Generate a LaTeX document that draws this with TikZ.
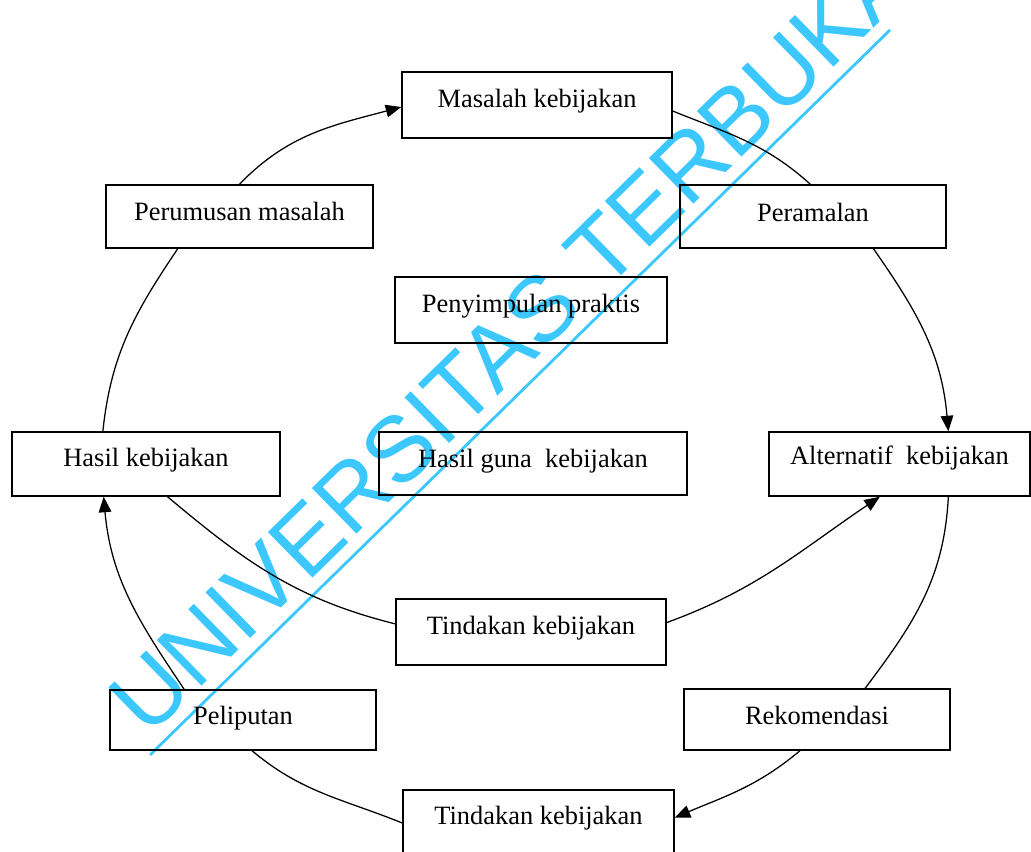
\documentclass[tikz,border=0pt]{standalone}
\usepackage{fontspec}
\setmainfont{Liberation Serif}
\newfontfamily\wmfont{Liberation Sans}
\usetikzlibrary{arrows.meta,calc}
\definecolor{wmcyan}{RGB}{60,200,255}
\begin{document}
\begin{tikzpicture}[x=0.025cm,y=0.025cm,
  kbox/.style 2 args={draw, line width=1.1pt, minimum width=#1*0.025cm,
    minimum height=#2*0.025cm, inner sep=0pt,
    font=\fontsize{18.8}{22}\selectfont, text height=12pt, text depth=7.75pt},
  arc/.style={line width=0.9pt},
  arr/.style={arc, -{Triangle[length=11pt,width=9pt]}}]
\useasboundingbox (0,0) rectangle (1031,852);
% watermark
\node[rotate=44.4, anchor=base, text=wmcyan, inner sep=0pt,
      font=\wmfont\fontsize{66}{72}\selectfont] (wm) at (533,490) {UNIVERSITAS TERBUKA};
\coordinate (ula) at (150,97);
\coordinate (ulb) at (890,822);
\draw[wmcyan, line width=2pt] (ula) -- (ulb);
% boxes
\node[kbox={270}{66}] (masalah) at (537,747) {Masalah kebijakan};
\node[kbox={266}{63}, text depth=4.2pt] (peramalan) at (813,635.5) {Peramalan};
\node[kbox={267}{63}, text depth=7pt] (perumusan) at (239.5,635.5) {Perumusan masalah};
\node[kbox={272}{66}] (penyimpulan) at (531,542) {Penyimpulan praktis};
\node[kbox={268}{64}] (hasil) at (146,388) {Hasil kebijakan};
\node[kbox={308}{63}, text depth=7pt] (hasilguna) at (533,388.5) {Hasil guna\ \ kebijakan};
\node[kbox={261}{64}, text depth=10.6pt] (alternatif) at (899.5,388) {Alternatif\ \ kebijakan};
\node[kbox={270}{66}] (tindakan) at (531,220) {Tindakan kebijakan};
\node[kbox={266}{60}, text depth=4.9pt] (peliputan) at (243,132) {Peliputan};
\node[kbox={266}{61}, text depth=4.2pt] (rekomendasi) at (817,132.5) {Rekomendasi};
\node[kbox={271}{66}, text depth=9.2pt] (tindakanb) at (538.5,29) {Tindakan kebijakan};
% cycle arcs
\draw[arr] (perumusan.north) to[out=46,in=195]
  ($(masalah.north west)!0.53!(masalah.south west)$);
\draw[arc] ($(masalah.north east)!0.59!(masalah.south east)$) to[out=-22,in=138]
  ($(peramalan.north west)!0.49!(peramalan.north east)$);
\draw[arr] ($(peramalan.south west)!0.726!(peramalan.south east)$) to[out=-55,in=95]
  ($(alternatif.north west)!0.686!(alternatif.north east)$);
\draw[arc] ($(alternatif.south west)!0.686!(alternatif.south east)$) to[out=-93,in=53]
  ($(rekomendasi.north west)!0.68!(rekomendasi.north east)$);
\draw[arr] ($(rekomendasi.south west)!0.436!(rekomendasi.south east)$) to[out=-140,in=23]
  ($(tindakanb.north east)!0.42!(tindakanb.south east)$);
\draw[arc] (tindakanb.west) to[out=158,in=-40]
  ($(peliputan.south west)!0.534!(peliputan.south east)$);
\draw[arr] ($(peliputan.north west)!0.28!(peliputan.north east)$) to[out=124,in=-85]
  ($(hasil.south west)!0.343!(hasil.south east)$);
\draw[arc] ($(hasil.north west)!0.34!(hasil.north east)$) to[out=84,in=236]
  ($(perumusan.south west)!0.27!(perumusan.south east)$);
% inner arcs
\draw[arc] ($(hasil.south west)!0.58!(hasil.south east)$) to[out=-40,in=166]
  ($(tindakan.north west)!0.38!(tindakan.south west)$);
\draw[arr] ($(tindakan.north east)!0.36!(tindakan.south east)$) to[out=20,in=214]
  ($(alternatif.south west)!0.425!(alternatif.south east)$);
\end{tikzpicture}
\end{document}
